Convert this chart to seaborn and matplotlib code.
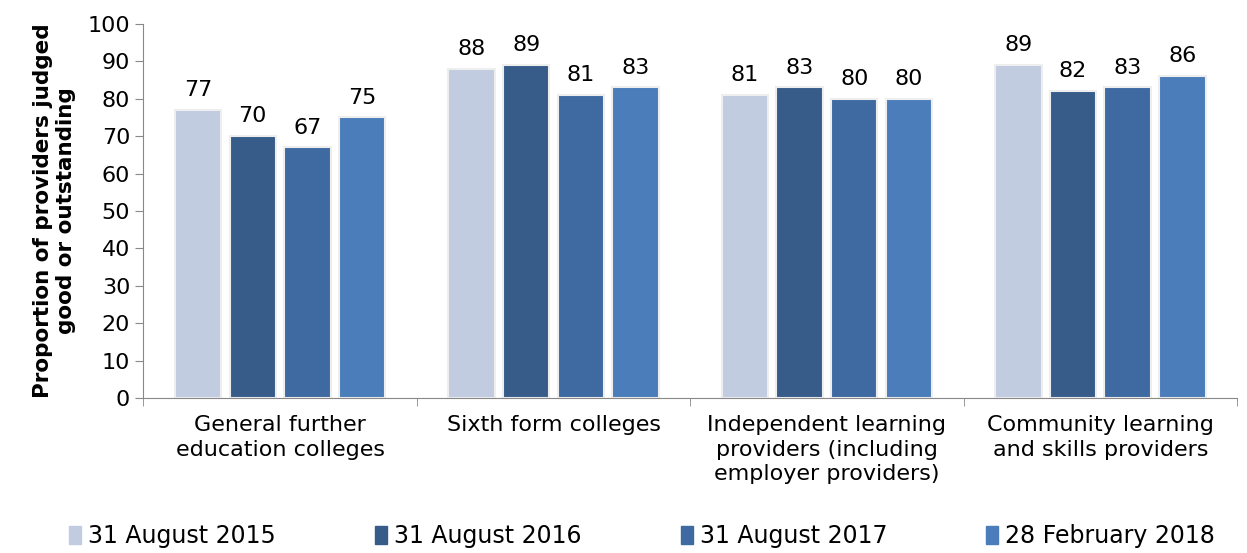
import numpy as np
import pandas as pd
import matplotlib
matplotlib.use("Agg")
import matplotlib.pyplot as plt
import seaborn as sns

# Data
categories = ["General further\neducation colleges", "Sixth form colleges",
              "Independent learning\nproviders (including\nemployer providers)",
              "Community learning\nand skills providers"]
periods = ["31 August 2015", "31 August 2016", "31 August 2017", "28 February 2018"]
aug_2015 = [77, 88, 81, 89]
aug_2016 = [70, 89, 83, 82]
aug_2017 = [67, 81, 80, 83]
feb_2018 = [75, 83, 80, 86]
colors = ["#C1CCE1", "#375C8A", "#3F6AA1", "#4A7DB9"]

df = pd.DataFrame({
    "category": np.repeat(categories, 4),
    "period": periods * 4,
    "value": np.array([aug_2015, aug_2016, aug_2017, feb_2018]).T.ravel(),
})

sns.set_style("white")
plt.rcParams["font.family"] = ["DejaVu Sans"]
plt.rcParams["text.color"] = "black"
plt.rcParams["xtick.color"] = "black"
plt.rcParams["ytick.color"] = "black"

fig = plt.figure(figsize=(12.47, 5.53), dpi=100)
ax = fig.add_axes([0.115, 0.28, 0.877, 0.677])

sns.barplot(data=df, x="category", y="value", hue="period", order=categories,
            hue_order=periods, palette=colors, saturation=1, width=0.8, gap=0.15,
            edgecolor="#EEEEEE", linewidth=1.5, legend=False, ax=ax)

for cont in ax.containers:
    ax.bar_label(cont, fmt="%d", padding=7, fontsize=16, color="black")

ax.set_ylim(0, 100)
ax.set_yticks(range(0, 101, 10))
ax.set_xlim(-0.5, len(categories) - 0.5)
ax.set_xticks(np.arange(-0.5, len(categories)), minor=True)
ax.tick_params(axis="x", which="major", length=0, labelsize=16, pad=12, labelcolor="black")
ax.tick_params(axis="x", which="minor", length=6, color="#888888", direction="out")
ax.tick_params(axis="y", length=6, color="#888888", direction="out", labelsize=16,
               left=True, labelcolor="black")
for lbl in ax.get_xticklabels():
    lbl.set_linespacing(1.3)
ax.set_xlabel("")
ax.set_ylabel("Proportion of providers judged\ngood or outstanding",
              fontsize=15.5, fontweight="bold", labelpad=8, color="black")
ax.xaxis.set_tick_params(bottom=True, which="minor")
for s in ["top", "right"]:
    ax.spines[s].set_visible(False)
for s in ["left", "bottom"]:
    ax.spines[s].set_color("#888888")

handles = [plt.Rectangle((0, 0), 1, 1, color=c) for c in colors]
fig.legend(handles, periods, loc="lower center", bbox_to_anchor=(0.515, -0.03),
           ncol=4, frameon=False, fontsize=17, handlelength=0.5, handleheight=0.8,
           handletextpad=0.3, columnspacing=4.2)

fig.savefig("out.png", dpi=100)
